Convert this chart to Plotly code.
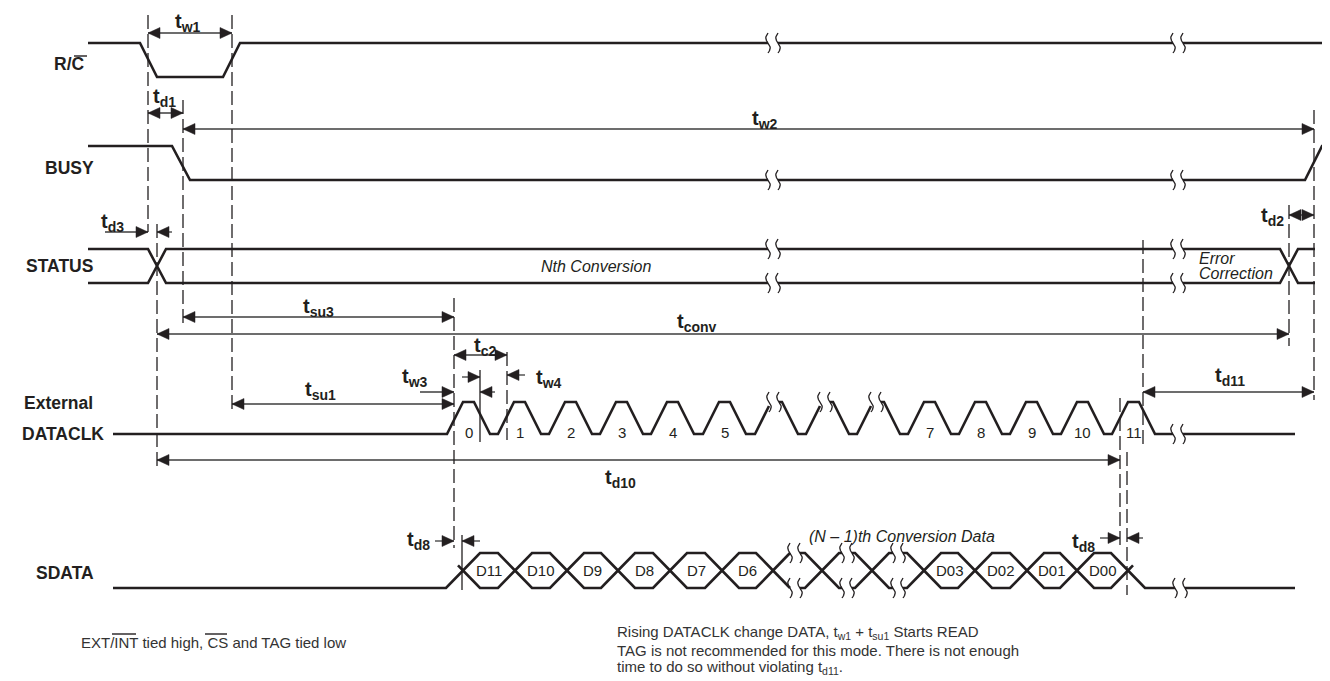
import numpy as np
import plotly.graph_objects as go

W, H = 1330, 681
PAGE_OFFSET = 8          # default body margin of the html page
INK = "#231f20"
DIM = "#3c3c3c"
FONT = "Liberation Sans, Arial, Helvetica, sans-serif"

# ---------------- waveforms (x = time position, y = level, both in px) ----------------
TIME_BREAKS = [773, 1178]

RC_LEVEL = (43, 77)
RC_X = [88, 140, 157, 223, 240, 1330]
RC_STATE = [1, 1, 0, 0, 1, 1]

BUSY_LEVEL = (146, 180)
BUSY_X = [88, 172, 190, 1305, 1322, 1330]
BUSY_STATE = [1, 1, 0, 0, 1, 1]

STATUS_LEVEL = (249, 283)
STATUS_SPAN = (88, 1315)
STATUS_CROSS = [157, 1289]

CLK_LEVEL = (402, 434)
CLK_SPAN = (113, 1295)
CLK_TOPS = [463, 514, 565, 616, 667, 719, 771, 822, 873, 924, 975, 1026, 1077, 1128]
CLK_LABELS = ["0", "1", "2", "3", "4", "5", "", "", "", "7", "8", "9", "10", "11"]
CLK_BROKEN = [6, 7, 8]
CLK_BREAKS = [1178]

SD_LEVEL = (553, 588)
SD_SPAN = (113, 1295)
SD_CROSS = [463, 515, 567, 618, 670, 722, 773, 822, 872, 924, 975, 1027, 1077, 1128]
SD_LABELS = ["D11", "D10", "D9", "D8", "D7", "D6", "", "", "", "D03", "D02", "D01", "D00"]
SD_BREAKS = [795, 847, 898, 1180]

# ---------------- timing marks ----------------
DASH_X = [148, 232, 157, 183, 454, 507, 1120, 1127, 1143, 1289, 1314]
DASH_TOP = [15, 15, 224, 100, 298, 352, 398, 452, 240, 205, 110]
DASH_BOT = [232, 410, 470, 325, 548, 440, 545, 595, 448, 346, 400]

TICK_X = [480, 462]
TICK_TOP = [370, 535]
TICK_BOT = [442, 590]

# double-headed dimension arrows
DIM_X1 = [148, 148, 183, 1289, 183, 157, 454, 232, 1143, 157]
DIM_X2 = [232, 183, 1314, 1314, 454, 1289, 507, 454, 1314, 1120]
DIM_Y = [33, 113, 129, 215, 317, 334, 355, 404, 392, 460]

# single-headed pointers (from -> to)
PTR_FROM = [105, 172, 420, 462, 495, 525, 435, 480, 1100, 1143]
PTR_TO = [148, 157, 454, 480, 480, 507, 454, 462, 1120, 1127]
PTR_Y = [232, 232, 392, 377, 392, 375, 541, 541, 538, 538]

# timing labels  t<sub>..</sub>
TL_SUB = ["w1", "d1", "w2", "d3", "d2", "su3", "conv", "c2", "w3", "w4", "su1", "d11", "d10", "d8", "d8"]
TL_X = [188, 164, 765, 112, 1272, 318, 697, 485, 415, 549, 320, 1230, 620, 418, 1083]
TL_Y = [22, 97, 119, 222, 216, 307, 322, 346, 377, 378, 390, 376, 478, 540, 542]

# signal names
SIG_NAMES = ["R/C", "BUSY", "STATUS", "External", "DATACLK", "SDATA"]
SIG_X = [87, 96, 95, 22, 20, 96]
SIG_ANCHOR = ["right", "right", "right", "left", "left", "right"]
SIG_Y = [64, 168, 266, 403, 434, 573]

RISE, TOP, FALL = 16, 11, 16
SD_HW = 17
ST_HW = 9
GAP = 5


def cut(points, breaks, half=GAP):
    out, cur = [], []
    for (x0, y0), (x1, y1) in zip(points[:-1], points[1:]):
        ts = [0.0, 1.0]
        if x1 != x0:
            for g in breaks:
                for gx in (g - half, g + half):
                    t = (gx - x0) / (x1 - x0)
                    if 0 < t < 1:
                        ts.append(t)
        ts.sort()
        for ta, tb in zip(ts[:-1], ts[1:]):
            xm = x0 + (ta + tb) / 2 * (x1 - x0)
            pa = (x0 + ta * (x1 - x0), y0 + ta * (y1 - y0))
            pb = (x0 + tb * (x1 - x0), y0 + tb * (y1 - y0))
            if any(abs(xm - g) < half for g in breaks):
                if cur:
                    out.append(cur)
                cur = []
            else:
                if not cur:
                    cur = [pa]
                cur.append(pb)
    if cur:
        out.append(cur)
    return out


def y_at(points, x):
    for (x0, y0), (x1, y1) in zip(points[:-1], points[1:]):
        if x1 != x0 and min(x0, x1) <= x <= max(x0, x1):
            return y0 + (x - x0) / (x1 - x0) * (y1 - y0)
    return None


def squiggle(x, y, h=10, a=2.2):
    s = np.linspace(-1, 1, 17)
    return list(zip(x + a * np.sin(np.pi * s), y + h * s))


def head(tip, y, d, L=12, hw=5.5):
    bx = tip - d * L
    return [(tip, y), (bx, y - hw), (bx, y + hw), (tip, y)]


sig, thin, tri = [], [], []


def signal(points, breaks):
    for part in cut(points, breaks):
        sig.append(part)
    for g in breaks:
        yy = y_at(points, g)
        if yy is not None:
            thin.append(squiggle(g - GAP, yy))
            thin.append(squiggle(g + GAP, yy))


# R/C and BUSY
for xs, st, lev in ((RC_X, RC_STATE, RC_LEVEL), (BUSY_X, BUSY_STATE, BUSY_LEVEL)):
    signal([(x, lev[0] if s else lev[1]) for x, s in zip(xs, st)], TIME_BREAKS)

# STATUS bus
hi, lo = STATUS_LEVEL
mid = (hi + lo) / 2
bounds = [STATUS_SPAN[0]] + STATUS_CROSS + [STATUS_SPAN[1]]
for i in range(len(bounds) - 1):
    a, b = bounds[i], bounds[i + 1]
    for lvl in (hi, lo):
        pts = [(a, mid), (a + ST_HW, lvl)] if i > 0 else [(a, lvl)]
        pts += [(b - ST_HW, lvl), (b, mid)] if i < len(bounds) - 2 else [(b, lvl)]
        signal(pts, TIME_BREAKS)

# DATACLK
hi, lo = CLK_LEVEL
pts = [(CLK_SPAN[0], lo)]
for t in CLK_TOPS:
    pts += [(t - RISE, lo), (t, hi), (t + TOP, hi), (t + TOP + FALL, lo)]
pts.append((CLK_SPAN[1], lo))
clk_breaks = [CLK_TOPS[i] + 3 for i in CLK_BROKEN] + CLK_BREAKS
signal(pts, clk_breaks)

# SDATA
hi, lo = SD_LEVEL
mid = (hi + lo) / 2
c0, cn = SD_CROSS[0], SD_CROSS[-1]
slope = (lo - mid) / SD_HW
signal([(SD_SPAN[0], lo), (c0 - SD_HW, lo), (c0, mid)], SD_BREAKS)
sig.append([(c0 - 5, mid - 5 * slope), (c0, mid)])
for a, b in zip(SD_CROSS[:-1], SD_CROSS[1:]):
    for lvl in (hi, lo):
        signal([(a, mid), (a + SD_HW, lvl), (b - SD_HW, lvl), (b, mid)], SD_BREAKS)
signal([(cn, mid), (cn + SD_HW, lo), (SD_SPAN[1], lo)], SD_BREAKS)
sig.append([(cn, mid), (cn + 5, mid - 5 * slope)])

# dimension arrows
dims = []
for x1, x2, y in zip(DIM_X1, DIM_X2, DIM_Y):
    dims.append([(x1, y), (x2, y)])
    tri.append(head(x1, y, -1))
    tri.append(head(x2, y, 1))
for xf, xt, y in zip(PTR_FROM, PTR_TO, PTR_Y):
    d = 1 if xt > xf else -1
    dims.append([(xf, y), (xt, y)])
    tri.append(head(xt, y, d))


def flat(paths):
    xs, ys = [], []
    for p in paths:
        xs += [q[0] for q in p] + [None]
        ys += [q[1] for q in p] + [None]
    return xs, ys


fig = go.Figure()
x, y = flat(dims)
fig.add_trace(go.Scatter(x=x, y=y, mode="lines", line=dict(color=DIM, width=1.3), hoverinfo="skip"))
x, y = flat(sig)
fig.add_trace(go.Scatter(x=x, y=y, mode="lines", line=dict(color=INK, width=2.6), hoverinfo="skip"))
x, y = flat(thin)
fig.add_trace(go.Scatter(x=x, y=y, mode="lines", line=dict(color=INK, width=1.3), hoverinfo="skip"))
x, y = flat(tri)
fig.add_trace(go.Scatter(x=x, y=y, mode="lines", fill="toself", fillcolor=INK,
                         line=dict(color=INK, width=0.5), hoverinfo="skip"))

shapes = []
for xx, y0, y1 in zip(DASH_X, DASH_TOP, DASH_BOT):
    shapes.append(dict(type="line", x0=xx, x1=xx, y0=y0, y1=y1,
                       line=dict(color=INK, width=1.3, dash="14px,5px")))
for xx, y0, y1 in zip(TICK_X, TICK_TOP, TICK_BOT):
    shapes.append(dict(type="line", x0=xx, x1=xx, y0=y0, y1=y1,
                       line=dict(color=INK, width=1.3)))
# overlines (R/C, EXT/INT, CS)
for xa, xb, yy in ((74, 87, 56), (112, 136, 634), (205, 227, 634)):
    shapes.append(dict(type="line", x0=xa, x1=xb, y0=yy, y1=yy,
                       line=dict(color=INK, width=1.4)))

ann = []


def text(x, y, s, size, xanchor="center", bold=False, italic=False, color=INK):
    if bold:
        s = "<b>" + s + "</b>"
    if italic:
        s = "<i>" + s + "</i>"
    ann.append(dict(x=x, y=y, text=s, showarrow=False, xanchor=xanchor, yanchor="middle",
                    font=dict(family=FONT, size=size, color=color)))


for n, xx, yy, anc in zip(SIG_NAMES, SIG_X, SIG_Y, SIG_ANCHOR):
    text(xx, yy, n, 17.5, xanchor=anc, bold=True)
for sub, xx, yy in zip(TL_SUB, TL_X, TL_Y):
    text(xx, yy, "t<sub>" + sub + "</sub>", 20, bold=True)
for t, lab in zip(CLK_TOPS, CLK_LABELS):
    if lab:
        text(t + TOP / 2, 432, lab, 15)
for a, b, lab in zip(SD_CROSS[:-1], SD_CROSS[1:], SD_LABELS):
    if lab:
        text((a + b) / 2, 570, lab, 15)

text(596, 266, "Nth Conversion", 16, italic=True)
text(1197, 258, "Error", 16, xanchor="left", italic=True)
text(1197, 273, "Correction", 16, xanchor="left", italic=True)
text(807, 536, "(N \u2013 1)th Conversion Data", 16, xanchor="left", italic=True)

text(79, 642, "EXT/INT tied high, CS and TAG tied low", 15, xanchor="left", color="#333333")
text(615, 632, "Rising DATACLK change DATA, t<sub>w1</sub> + t<sub>su1</sub> Starts READ", 15,
     xanchor="left", color="#333333")
text(615, 650, "TAG is not recommended for this mode. There is not enough", 15,
     xanchor="left", color="#333333")
text(615, 667, "time to do so without violating t<sub>d11</sub>.", 15, xanchor="left", color="#333333")

fig.update_layout(
    width=W, height=H, margin=dict(l=0, r=0, t=0, b=0),
    paper_bgcolor="white", plot_bgcolor="white", showlegend=False,
    shapes=shapes, annotations=ann,
)
# the page puts the figure PAGE_OFFSET px in from the corner; shift the ranges so
# that picture pixels line up with the values
fig.update_xaxes(range=[PAGE_OFFSET, W + PAGE_OFFSET], visible=False, fixedrange=True)
fig.update_yaxes(range=[H + PAGE_OFFSET, PAGE_OFFSET], visible=False, fixedrange=True)

fig.write_html("out.html")
